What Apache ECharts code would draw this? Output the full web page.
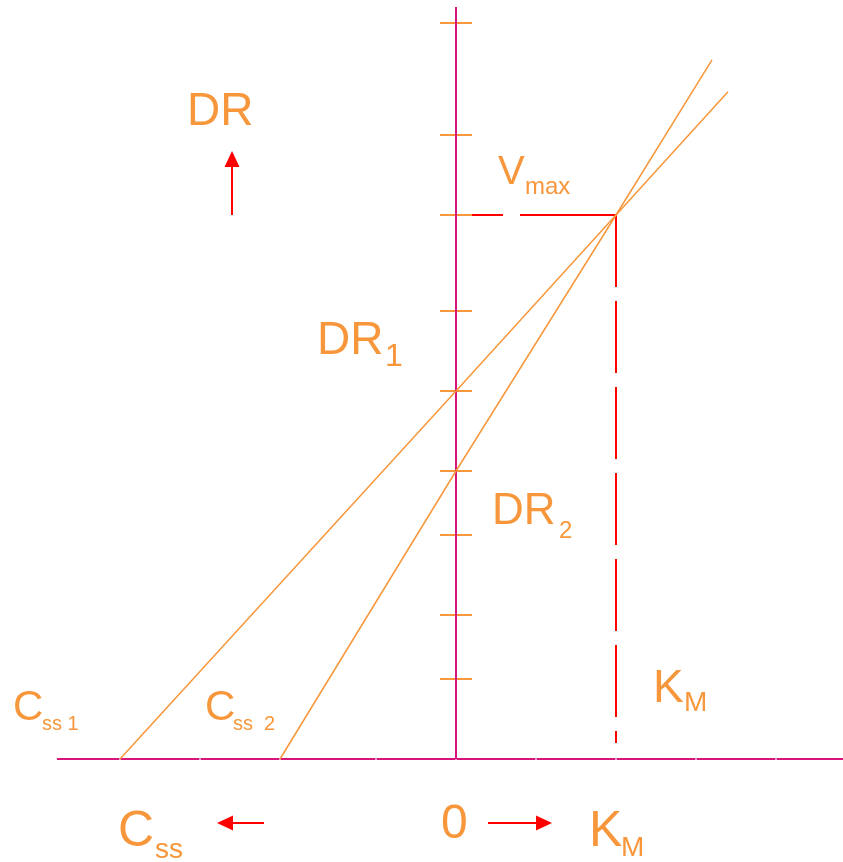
<!DOCTYPE html>
<html><head><meta charset="utf-8">
<script src="https://cdn.jsdelivr.net/npm/echarts@6/dist/echarts.min.js"></script>
<style>html,body{margin:0;padding:0;background:#fff}#c{width:843px;height:862px}</style>
</head><body><div id="c"></div>
<script>
// ---- data (units: 1 unit = one grid step of the drawing) ----
const xTicks = [-21, -16, -11, -5, 0, 5, 10, 15, 20];      // horizontal axis tick positions
const yTicks = [5, 9, 14, 18, 23, 28, 34, 39, 46];          // vertical axis tick positions
const cssValues = [-21, -11];                               // Css1, Css2 (x intercepts)
const drValues = [23, 18];                                  // DR1, DR2 (y intercepts)
const lineEnds = [[17, 41.7], [16, 43.7]];                  // far ends of the two lines
const vmax = 34;
const km = 10;
const xAxisExtent = [-24.94, 24.19];
const yAxisExtent = [0, 47];
const kmDashBottom = 1;

const ORANGE = '#f7963a', MAG = '#d6157a', RED = '#ff0000';
const FONT = '"Liberation Sans", Arial, sans-serif';

const chart = echarts.init(document.getElementById('c'));
const series = [];

// horizontal axis as segments between ticks
const hb = [xAxisExtent[0], ...xTicks, xAxisExtent[1]];
for (let i = 0; i < hb.length - 1; i++) {
  series.push({type:'line', data:[[hb[i] + (i ? 0.035 : 0), 0], [hb[i+1] - (i < hb.length - 2 ? 0.035 : 0), 0]],
    symbol:'none', silent:true, z:3, lineStyle:{color:MAG, width:2}});
}
// red dashed Vmax / Km guides
series.push({type:'line', data:[[km, vmax], [0, vmax]], symbol:'none', z:2,
  lineStyle:{color:RED, width:2, type:[96, 17, 400]}});
series.push({type:'line', data:[[km, vmax], [km, kmDashBottom]], symbol:'none', z:2,
  lineStyle:{color:RED, width:2, type:[72, 14]}});
// vertical axis ticks
yTicks.forEach(v => series.push({type:'line', data:[[-1, v], [1, v]], symbol:'none', z:3,
  lineStyle:{color:ORANGE, width:2}}));
// vertical axis
series.push({type:'line', data:[[0, yAxisExtent[0]], [0, yAxisExtent[1]]], symbol:'none', z:4,
  lineStyle:{color:MAG, width:2}});
// direct linear plot lines
cssValues.forEach((c, i) => series.push({type:'line', data:[[c, 0], [0, drValues[i]], [km, vmax], lineEnds[i]],
  symbol:'none', z:5, lineStyle:{color:ORANGE, width:1.5}}));

// text helper: x = left of text, b = baseline (pixels)
function t(text, x, b, fs, fill) {
  return {type:'text', x:x, y:b - 0.35 * fs, z:10,
    style:{text:text, font: fs + 'px ' + FONT, fill: fill || ORANGE, verticalAlign:'middle', align:'left'}};
}
function arrow(x1, y1, x2, y2) {
  const dx = x2 - x1, dy = y2 - y1, L = Math.hypot(dx, dy), ux = dx / L, uy = dy / L;
  const hl = 16, hw = 7.5;
  const bx = x2 - ux * hl, by = y2 - uy * hl;
  return [
    {type:'line', z:10, shape:{x1:x1, y1:y1, x2:bx, y2:by}, style:{stroke:RED, lineWidth:2}},
    {type:'polygon', z:10, shape:{points:[[x2, y2], [bx - uy * hw, by + ux * hw], [bx + uy * hw, by - ux * hw]]}, style:{fill:RED}}
  ];
}

const graphics = [
  t('DR', 187, 128, 46),
  t('V', 498, 187, 40), t('max', 525, 196, 24),
  t('DR', 317, 357, 46), t('1', 385, 368, 32),
  t('DR', 492, 527, 44), t('2', 559, 540, 24),
  t('K', 653, 705, 46), t('M', 684, 713, 28),
  t('C', 13, 723, 42), t('ss 1', 42, 731, 20),
  t('C', 205, 723, 42), t('ss  2', 233, 731, 20),
  t('C', 118, 850, 50), t('ss', 155, 860, 28),
  t('0', 441, 842, 48),
  t('K', 589, 850, 50), t('M', 621, 858, 28),
  ...arrow(232, 215, 232, 151),
  ...arrow(264, 823, 217, 823),
  ...arrow(488, 823, 552, 823)
];

chart.setOption({
  animation:false,
  grid:{left:0, right:0, top:0, bottom:0},
  xAxis:{type:'value', min:-28.5, max:24.1875, show:false},
  yAxis:{type:'value', min:-6.4375, max:47.4375, show:false},
  series:series,
  graphic:graphics
});
</script></body></html>
